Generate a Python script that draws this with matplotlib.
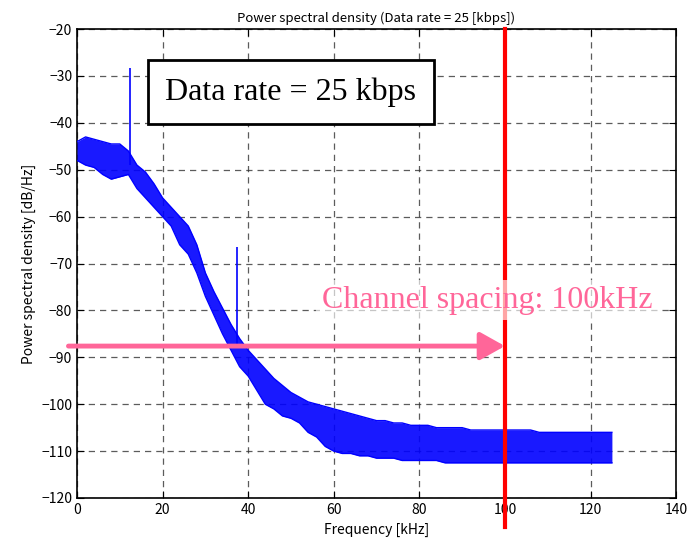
import numpy as np
import matplotlib
matplotlib.use("Agg")
import matplotlib.pyplot as plt

plt.rcParams["font.family"] = ["Noto Sans CJK JP", "DejaVu Sans"]

# envelope of the PSD trace read every 2 kHz (upper / lower edge, dB/Hz)
freq = [0, 2, 4, 6, 8, 10, 12, 14, 16, 18, 20, 22, 24, 26, 28, 30, 32, 34, 36, 38,
        40, 42, 44, 46, 48, 50, 52, 54, 56, 58, 60, 62, 64, 66, 68, 70, 72, 74, 76, 78,
        80, 82, 84, 86, 88, 90, 92, 94, 96, 98, 100, 102, 104, 106, 108, 110, 112, 114,
        116, 118, 120, 122, 124, 125]
psd_hi = [-44, -43, -43.5, -44, -44.5, -44.5, -46, -49, -50.5, -53, -56, -58, -60, -62,
          -66, -72, -76, -79.5, -83, -86, -88.5, -90.5, -92.5, -94.5, -96, -97.5, -98.5,
          -99.5, -100, -100.5, -101, -101.5, -102, -102.5, -103, -103.5, -103.5, -104,
          -104, -104.5, -104.5, -104.5, -105, -105, -105, -105, -105.5, -105.5, -105.5,
          -105.5, -105.5, -105.5, -105.5, -105.5, -106, -106, -106, -106, -106, -106,
          -106, -106, -106, -106]
psd_lo = [-48, -49, -49.5, -51, -52, -51.5, -51, -54, -56, -58, -60, -62, -66, -68,
          -72, -77, -81, -85, -88.5, -92, -94, -97, -100, -101, -102.5, -103, -104,
          -106, -107, -109, -110, -110.5, -110.5, -111, -111, -111.5, -111.5, -111.5,
          -112, -112, -112, -112, -112, -112.5, -112.5, -112.5, -112.5, -112.5, -112.5,
          -112.5, -112.5, -112.5, -112.5, -112.5, -112.5, -112.5, -112.5, -112.5, -112.5,
          -112.5, -112.5, -112.5, -112.5, -112.5]

# discrete tones
tone_freq = [12.4, 37.5]
tone_base = [-49, -88]
tone_peak = [-28.3, -66.4]

channel_spacing = 100
arrow_level = -87.6

blue = "#0000FF"
pink = "#FF6699"

fig = plt.figure(figsize=(6.97, 5.49), dpi=100)
ax = fig.add_axes([0.1105, 0.0929, 0.8595, 0.8541])

# noise band of the spectrum
ax.fill_between(freq, psd_hi, psd_lo, color=blue, alpha=0.9, lw=0, zorder=3)
ax.plot(freq, psd_hi, color=blue, lw=1.0, zorder=3)
ax.plot(freq, psd_lo, color=blue, lw=1.0, zorder=3)
ax.vlines(tone_freq, tone_base, tone_peak, color=blue, lw=1.2, zorder=3)

ax.set_xlim(0, 140)
ax.set_ylim(-120, -20)
ax.set_xticks(np.arange(0, 141, 20))
ax.set_yticks(np.arange(-120, -19, 10))
ax.grid(True, color="#333333", ls=(0, (5, 4)), lw=0.9, alpha=0.8)
ax.tick_params(direction="in", top=True, right=True, labelsize=10, length=5)
for s in ax.spines.values():
    s.set_linewidth(1.2)

ax.set_title("Power spectral density (Data rate = 25 [kbps])", fontsize=9.5, pad=5)
ax.set_xlabel("Frequency [kHz]", fontsize=10)
ax.set_ylabel("Power spectral density [dB/Hz]", fontsize=10)

# channel spacing marker
ax.plot([channel_spacing, channel_spacing], [-20, -126.2], color="#FF0000", lw=3,
        clip_on=False, zorder=4)
ax.annotate("", xy=(channel_spacing, arrow_level), xytext=(-2, arrow_level),
            annotation_clip=False,
            arrowprops=dict(arrowstyle="-|>,head_length=0.75,head_width=0.42",
                            mutation_scale=20, lw=3.5, color=pink,
                            shrinkA=0, shrinkB=0), zorder=5)
ax.text(95.8, -77.8, "Channel spacing: 100kHz", color=pink, fontsize=23,
        family="Liberation Serif", ha="center", va="center", zorder=6,
        bbox=dict(facecolor="white", edgecolor="none", alpha=0.65, pad=4))

ax.text(0.357, 0.866, "Data rate = 25 kbps", transform=ax.transAxes, fontsize=23,
        family="Liberation Serif", ha="center", va="center", zorder=6,
        bbox=dict(boxstyle="square,pad=0.55", facecolor="white", edgecolor="black", lw=2))

fig.savefig("out.png", dpi=100)
